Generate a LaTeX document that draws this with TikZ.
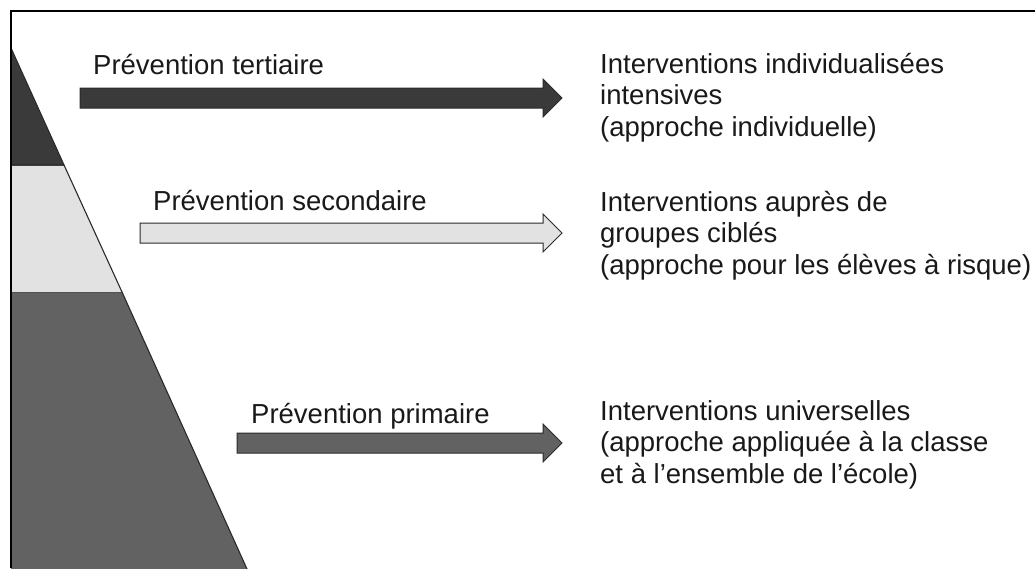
\documentclass[tikz,border=0pt]{standalone}
\usepackage{fontspec}
\setmainfont{Liberation Sans}
\definecolor{tierdark}{HTML}{3A3A3A}
\definecolor{tierlight}{HTML}{E2E2E2}
\definecolor{tiermid}{HTML}{626262}
\definecolor{edge}{HTML}{2A2A2A}
\begin{document}
\begin{tikzpicture}[x=1pt,y=-1pt,
  band/.style={draw=edge,line width=1.1pt,line join=round},
  blockarrow/.style={draw=edge,line width=1pt,line join=miter},
  label/.style={anchor=base west,inner sep=0pt,font=\fontsize{27.5}{31.5}\selectfont,text=black!90},
  desc/.style={anchor=base west,inner sep=0pt,align=left,font=\fontsize{27.5}{31.5}\selectfont,text=black!90}]
\useasboundingbox (0,0) rectangle (1035,568);
% frame
\draw[line width=1.5pt] (11,568) -- (11,11) -- (1036,11);
% tiers of the half pyramid
\fill[tiermid] (11,292) -- (122,292) -- (247,569) -- (11,569) -- cycle;
\draw[band] (11,292) -- (122,292) -- (247,569);
\fill[tierlight] (11,165) -- (64,165) -- (122,292) -- (11,292) -- cycle;
\draw[band] (11,165) -- (64,165) -- (122,292);
\fill[tierdark] (11,48) -- (64,165) -- (11,165) -- cycle;
\draw[band] (11,48) -- (64,165) -- (11,165);
\draw[line width=1.5pt] (11,568) -- (11,11);
% block arrows: shaft 20 high, head 38 high
\newcommand{\blockarrow}[3]{%
  \path[blockarrow,fill=#3] (#1,#2-10) -- (543,#2-10) -- (543,#2-19) -- (562,#2)
    -- (543,#2+19) -- (543,#2+10) -- (#1,#2+10) -- cycle;}
\blockarrow{80}{98}{tierdark}
\blockarrow{140}{233}{tierlight}
\blockarrow{237}{443}{tiermid}
% labels
\node[label] (lt) at (93,74) {Prévention tertiaire};
\node[label] (ls) at (153,210) {Prévention secondaire};
\node[label] (lp) at (251,423) {Prévention primaire};
% descriptions (anchored on the baseline of their last line)
\node[desc] (dt) at (600,136) {Interventions individualisées\\intensives\\(approche individuelle)};
\node[desc] (ds) at (600,274) {Interventions auprès de\\groupes ciblés\\(approche pour les élèves à risque)};
\node[desc] (dp) at (600,483) {Interventions universelles\\(approche appliquée à la classe\\et à l’ensemble de l’école)};
\end{tikzpicture}
\end{document}
